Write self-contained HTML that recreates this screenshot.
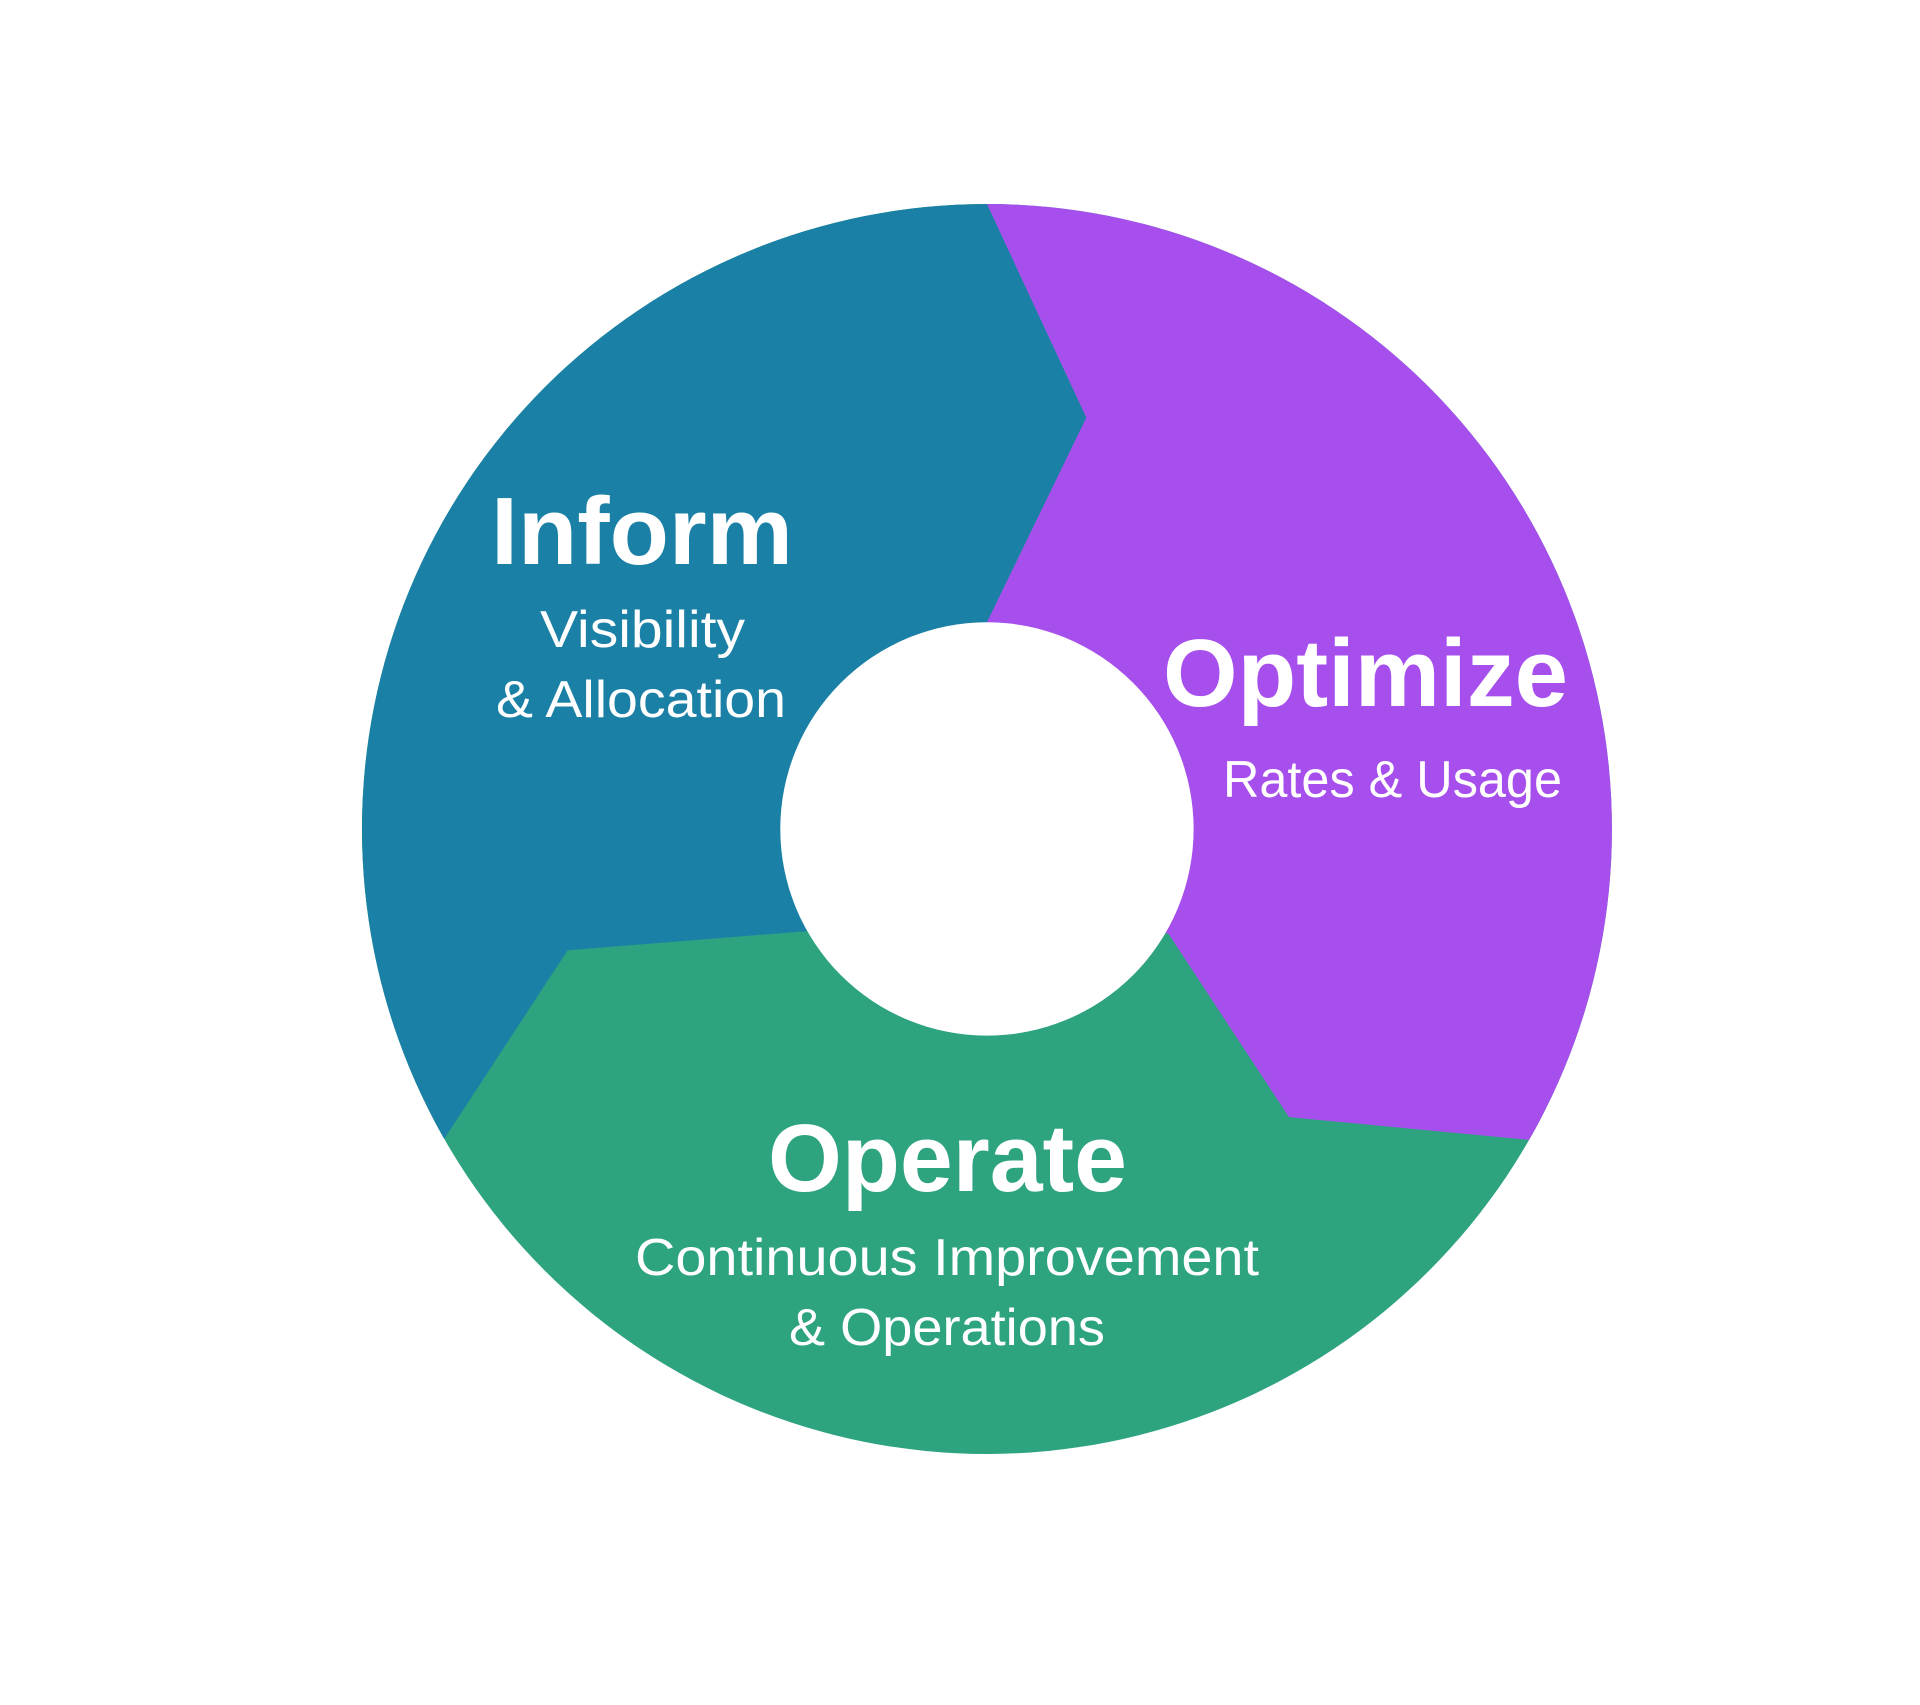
<!DOCTYPE html>
<html><head><meta charset="utf-8"><style>html,body{margin:0;padding:0;background:#fff;width:1920px;height:1705px;overflow:hidden}</style></head>
<body>
<svg width="1920" height="1705" viewBox="0 0 1920 1705" xmlns="http://www.w3.org/2000/svg">
<defs><clipPath id="c"><circle cx="992" cy="832" r="629"/></clipPath></defs>
<g transform="translate(1.3,2.3) scale(0.9936)">
<g clip-path="url(#c)">
<rect x="0" y="0" width="1920" height="1705" fill="#2da380"/>
<polygon fill="#1b80a6" points="992,0 992,203 1092,418 992,624 992,832 809,935 570,954 447,1142 300,1370 0,1370 0,0"/>
<polygon fill="#a64fec" points="992,0 992,203 1092,418 992,624 992,832 1175,938 1296,1122 1538,1145 1920,1180 1920,0"/>
</g>
<circle cx="992" cy="832" r="208" fill="#fff"/>
</g>
<g fill="#fff" font-family="Liberation Sans, sans-serif" transform="translate(-5,-5)">
<text x="496" y="569" font-size="96" font-weight="bold" textLength="302" lengthAdjust="spacingAndGlyphs">Inform</text>
<text x="545" y="652" font-size="52" textLength="205" lengthAdjust="spacingAndGlyphs">Visibility</text>
<text x="501" y="722" font-size="52" textLength="290" lengthAdjust="spacingAndGlyphs">&amp; Allocation</text>
<text x="1168" y="711" font-size="96" font-weight="bold" textLength="405" lengthAdjust="spacingAndGlyphs">Optimize</text>
<text x="1228" y="802" font-size="52" textLength="339" lengthAdjust="spacingAndGlyphs">Rates &amp; Usage</text>
<text x="773" y="1196" font-size="96" font-weight="bold" textLength="359" lengthAdjust="spacingAndGlyphs">Operate</text>
<text x="640" y="1280" font-size="52" textLength="624" lengthAdjust="spacingAndGlyphs">Continuous Improvement</text>
<text x="794" y="1350" font-size="52" textLength="316" lengthAdjust="spacingAndGlyphs">&amp; Operations</text>
</g>
</svg>
</body></html>
